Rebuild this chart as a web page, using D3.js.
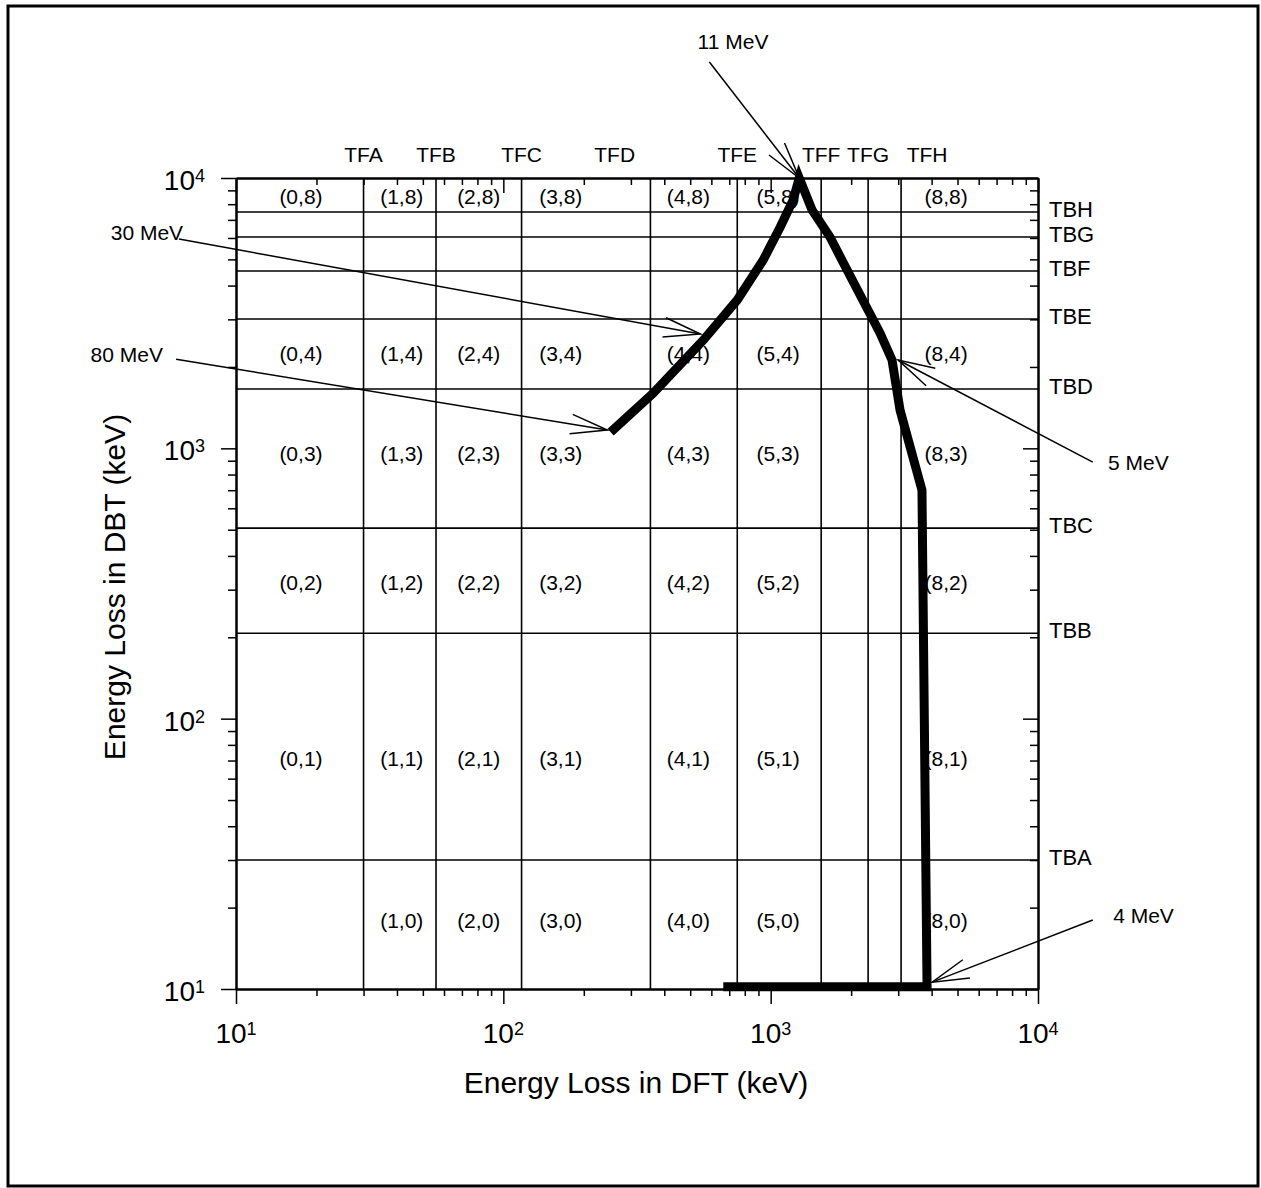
<!DOCTYPE html>
<html>
<head>
<meta charset="utf-8">
<script src="https://cdn.jsdelivr.net/npm/d3@7"></script>
<style>
  body { margin: 0; background: #fff; }
  text { font-family: "Liberation Sans", Arial, sans-serif; fill: #000; }
</style>
</head>
<body>
<svg id="chart"></svg>
<script>
// ---- data (keV) ----
const dftBounds = [30, 56, 117, 355, 750, 1545, 2315, 3075];
const dftNames = ["TFA", "TFB", "TFC", "TFD", "TFE", "TFF", "TFG", "TFH"];
const dftNamePos = [30, 56, 117, 261, 750, 1545, 2315, 3846];

const dbtBounds = [30, 207, 507, 1657, 3008, 4530, 6050, 7485];
const dbtNames = ["TBA", "TBB", "TBC", "TBD", "TBE", "TBF", "TBG", "TBH"];

// cell labels (i,j): column index + position, row index + position
const colIdx = [0, 1, 2, 3, 4, 5, 8];
const colPos = [17.5, 41.7, 80.9, 164, 492, 1067, 4530];
const rowIdx = [0, 1, 2, 3, 4, 8];
const rowPos = [17.8, 70.8, 318, 952, 2233, 8510];

// thick boundary curve
const curveDft = [252, 364, 560, 750, 938, 1086, 1214, 1279, 1428, 1667, 1931, 2312, 2564, 2844, 3047, 3681, 3846, 665];
const curveDbt = [1148, 1602, 2515, 3537, 4973, 6590, 8295, 10000, 7614, 6050, 4567, 3249, 2671, 2123, 1386, 701, 10.2, 10.2];

// energy annotations
const annoLabels = ["11 MeV", "30 MeV", "80 MeV", "5 MeV", "4 MeV"];
const annoTipDft = [1279, 546, 245, 3000, 4018];
const annoTipDbt = [10000, 2649, 1169, 2122, 10.6];
const annoTailDft = [590, 6.12, 5.97, 16030, 16030];
const annoTailDbt = [26850, 5945, 2137, 889, 18.0];
const annoTextDft = [723, 6.34, 5.33, 18280, 19100];
const annoTextDbt = [29990, 5903, 2084, 832, 17.5];
const annoAnchor = ["middle", "end", "end", "start", "start"];

const majorTicks = [10, 100, 1000, 10000];
const exps = [1, 2, 3, 4];

const width = 1261, height = 1188;
const svg = d3.select("#chart").attr("width", width).attr("height", height);

// outer frame
svg.append("rect")
    .attr("x", 8).attr("y", 6)
    .attr("width", 1250).attr("height", 1180)
    .attr("fill", "none").attr("stroke", "#000").attr("stroke-width", 3);

const x = d3.scaleLog().domain([10, 10000]).range([236, 1038]);
const y = d3.scaleLog().domain([10, 10000]).range([989, 178]);

const minor = [];
for (let d = 10; d < 10000; d *= 10) {
    for (let k = 2; k <= 9; k++) minor.push(k * d);
}

function styleAxis(g) {
    g.selectAll("path.domain").attr("stroke-width", 2);
    g.selectAll(".tick line").attr("stroke-width", 1.5);
    g.selectAll(".tick text").remove();
}

// bottom (outward) + top (inward)
svg.append("g").attr("transform", `translate(0,${y(10)})`)
    .call(d3.axisBottom(x).tickValues(majorTicks).tickSize(15).tickSizeOuter(0).tickFormat(""))
    .call(styleAxis);
svg.append("g").attr("transform", `translate(0,${y(10)})`)
    .call(d3.axisBottom(x).tickValues(minor).tickSize(7).tickSizeOuter(0).tickFormat(""))
    .call(styleAxis);
svg.append("g").attr("transform", `translate(0,${y(10000)})`)
    .call(d3.axisTop(x).tickValues(majorTicks).tickSize(-15).tickSizeOuter(0).tickFormat(""))
    .call(styleAxis);
svg.append("g").attr("transform", `translate(0,${y(10000)})`)
    .call(d3.axisTop(x).tickValues(minor).tickSize(-7).tickSizeOuter(0).tickFormat(""))
    .call(styleAxis);

// left (outward) + right (inward)
svg.append("g").attr("transform", `translate(${x(10)},0)`)
    .call(d3.axisLeft(y).tickValues(majorTicks).tickSize(15).tickSizeOuter(0).tickFormat(""))
    .call(styleAxis);
svg.append("g").attr("transform", `translate(${x(10)},0)`)
    .call(d3.axisLeft(y).tickValues(minor).tickSize(8).tickSizeOuter(0).tickFormat(""))
    .call(styleAxis);
svg.append("g").attr("transform", `translate(${x(10000)},0)`)
    .call(d3.axisRight(y).tickValues(majorTicks).tickSize(-15).tickSizeOuter(0).tickFormat(""))
    .call(styleAxis);
svg.append("g").attr("transform", `translate(${x(10000)},0)`)
    .call(d3.axisRight(y).tickValues(minor).tickSize(-8).tickSizeOuter(0).tickFormat(""))
    .call(styleAxis);

// tick labels 10^n
majorTicks.forEach((v, i) => {
    const t = svg.append("text")
        .attr("x", x(v)).attr("y", 1043)
        .attr("text-anchor", "middle")
        .attr("font-size", 28);
    t.append("tspan").text("10");
    t.append("tspan").attr("dy", -8).attr("font-size", 18).text(exps[i]);

    const l = svg.append("text")
        .attr("x", 205).attr("y", y(v) + 12)
        .attr("text-anchor", "end")
        .attr("font-size", 28);
    l.append("tspan").text("10");
    l.append("tspan").attr("dy", -8).attr("font-size", 18).text(exps[i]);
});

// axis titles
svg.append("text")
    .attr("x", 636).attr("y", 1093)
    .attr("text-anchor", "middle")
    .attr("font-size", 30)
    .text("Energy Loss in DFT (keV)");

svg.append("text")
    .attr("transform", `translate(125,587) rotate(-90)`)
    .attr("text-anchor", "middle")
    .attr("font-size", 30)
    .text("Energy Loss in DBT (keV)");

// grid of trigger boundaries
svg.append("g").selectAll("line")
    .data(dftBounds)
    .join("line")
    .attr("x1", d => x(d)).attr("x2", d => x(d))
    .attr("y1", y(10)).attr("y2", y(10000))
    .attr("stroke", "#000").attr("stroke-width", 1.6);

svg.append("g").selectAll("line")
    .data(dbtBounds)
    .join("line")
    .attr("x1", x(10)).attr("x2", x(10000))
    .attr("y1", d => y(d)).attr("y2", d => y(d))
    .attr("stroke", "#000").attr("stroke-width", 1.6);

svg.append("g").selectAll("text")
    .data(dftNames)
    .join("text")
    .attr("x", (d, i) => x(dftNamePos[i]))
    .attr("y", 162)
    .attr("text-anchor", "middle")
    .attr("font-size", 21)
    .text(d => d);

svg.append("g").selectAll("text")
    .data(dbtNames)
    .join("text")
    .attr("x", 1049)
    .attr("y", (d, i) => y(dbtBounds[i]) + 5)
    .attr("font-size", 22)
    .text(d => d);

// cell labels
const cells = [];
rowIdx.forEach((r, ri) => {
    colIdx.forEach((c, ci) => {
        if (r === 0 && c === 0) return;
        cells.push({ label: `(${c},${r})`, dft: colPos[ci], dbt: rowPos[ri] });
    });
});

svg.append("g").selectAll("text")
    .data(cells)
    .join("text")
    .attr("x", d => x(d.dft))
    .attr("y", d => y(d.dbt) + 7)
    .attr("text-anchor", "middle")
    .attr("font-size", 21)
    .text(d => d.label);

// thick curve
const pts = curveDft.map((d, i) => [d, curveDbt[i]]);
svg.append("path")
    .datum(pts)
    .attr("d", d3.line().x(d => x(d[0])).y(d => y(d[1])))
    .attr("fill", "none")
    .attr("stroke", "#000")
    .attr("stroke-width", 9)
    .attr("stroke-linejoin", "miter")
    .attr("stroke-miterlimit", 6);

// annotations with open arrowheads
const headLen = 38, headAng = 15 * Math.PI / 180;
annoLabels.forEach((lab, i) => {
    const tx = x(annoTipDft[i]), ty = y(annoTipDbt[i]);
    const sx = x(annoTailDft[i]), sy = y(annoTailDbt[i]);
    svg.append("line")
        .attr("x1", sx).attr("y1", sy).attr("x2", tx).attr("y2", ty)
        .attr("stroke", "#000").attr("stroke-width", 1.5);
    const a = Math.atan2(sy - ty, sx - tx);
    const p1 = [tx + headLen * Math.cos(a + headAng), ty + headLen * Math.sin(a + headAng)];
    const p2 = [tx + headLen * Math.cos(a - headAng), ty + headLen * Math.sin(a - headAng)];
    svg.append("path")
        .attr("d", `M${p1[0]},${p1[1]}L${tx},${ty}L${p2[0]},${p2[1]}`)
        .attr("fill", "none").attr("stroke", "#000").attr("stroke-width", 1.5);
    svg.append("text")
        .attr("x", x(annoTextDft[i])).attr("y", y(annoTextDbt[i]))
        .attr("text-anchor", annoAnchor[i])
        .attr("font-size", 21)
        .text(lab);
});
</script>
</body>
</html>
